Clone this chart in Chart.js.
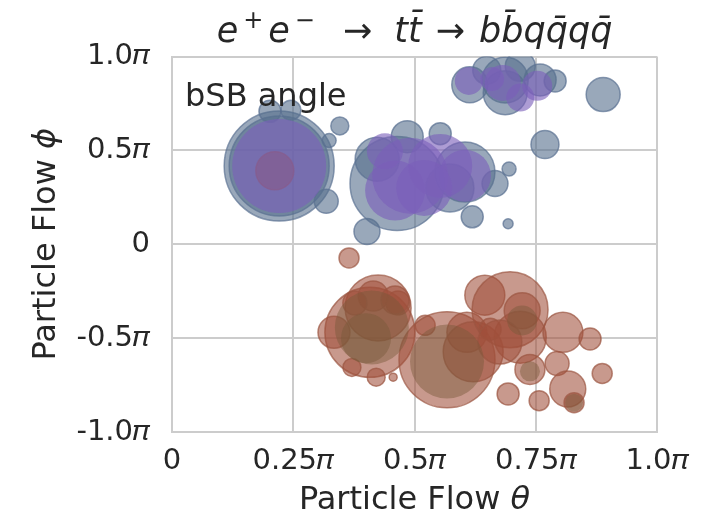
<!DOCTYPE html>
<html>
<head>
<meta charset="utf-8">
<script src="https://cdn.jsdelivr.net/npm/chart.js@4/dist/chart.umd.min.js"></script>
<style>
  html, body { margin: 0; padding: 0; background: #ffffff; }
  #wrap { width: 717px; height: 518px; }
</style>
</head>
<body>
<div id="wrap"><canvas id="c" width="717" height="518"></canvas></div>
<script>
// Particle flow positions, in units of pi (theta, phi), with bubble radius in px.
const blueTheta = [0.221, 0.221, 0.202, 0.245, 0.346, 0.324, 0.318, 0.402, 0.464, 0.423, 0.485, 0.553, 0.604, 0.619, 0.666, 0.695, 0.693, 0.614, 0.687, 0.687, 0.759, 0.790, 0.889, 0.769, 0.649, 0.718, 0.573];
const bluePhi   = [0.417, 0.417, 0.708, 0.714, 0.630, 0.552, 0.229, 0.068, 0.323, 0.453, 0.573, 0.589, 0.385, 0.146, 0.323, 0.401, 0.109, 0.849, 0.875, 0.807, 0.875, 0.870, 0.797, 0.531, 0.927, 0.948, 0.300];
const blueSize  = [55, 50, 11, 10, 9, 7, 12, 13, 47, 22, 16, 11, 30, 11, 13, 7, 5, 18, 23, 22, 16, 11, 17, 14, 14, 15, 24];

const purpleTheta = [0.221, 0.491, 0.553, 0.460, 0.604, 0.439, 0.520, 0.612, 0.682, 0.753, 0.718, 0.660];
const purplePhi   = [0.417, 0.365, 0.417, 0.286, 0.365, 0.495, 0.300, 0.870, 0.859, 0.844, 0.781, 0.880];
const purpleSize  = [47, 38, 32, 30, 26, 18, 28, 14, 18, 15, 14, 12];

const brownTheta = [0.212, 0.365, 0.408, 0.425, 0.334, 0.371, 0.421, 0.456, 0.522, 0.466, 0.567, 0.608, 0.621, 0.645, 0.697, 0.722, 0.718, 0.738, 0.806, 0.862, 0.794, 0.887, 0.693, 0.757, 0.816, 0.829, 0.656, 0.676, 0.415, 0.460, 0.377];
const brownPhi   = [0.391, -0.073, -0.469, -0.339, -0.469, -0.656, -0.708, -0.708, -0.432, -0.313, -0.615, -0.469, -0.573, -0.271, -0.349, -0.354, -0.495, -0.667, -0.469, -0.505, -0.635, -0.688, -0.797, -0.833, -0.771, -0.844, -0.453, -0.521, -0.276, -0.297, -0.313];
const brownSize  = [19, 10, 45, 33, 16, 9, 9, 4, 10, 12, 48, 20, 30, 20, 38, 18, 26, 15, 20, 11, 12, 10, 11, 10, 18, 10, 11, 22, 15, 14, 12];

const darkTheta = [0.412, 0.567, 0.722, 0.738, 0.829, 0.400];
const darkPhi   = [-0.443, -0.625, -0.406, -0.677, -0.844, -0.500];
const darkSize  = [37, 37, 15, 10, 9, 25];

const PI = '\u{1D70B}';
const xTickValues = [0, 0.25, 0.5, 0.75, 1.0];
const xTickLabels = ['0', '0.25' + PI, '0.5' + PI, '0.75' + PI, '1.0' + PI];
const yTickValues = [-1.0, -0.5, 0, 0.5, 1.0];
const yTickLabels = ['-1.0' + PI, '-0.5' + PI, '0', '0.5' + PI, '1.0' + PI];

const FONT = "'DejaVu Sans', sans-serif";
const INK = '#262626';
const GRID = '#cccccc';

function points(xs, ys, rs) {
  return xs.map((x, i) => ({ x: x, y: ys[i], r: rs[i] }));
}

// Title, in-plot caption and the two axis titles (with italic symbols).
const textPlugin = {
  id: 'textPlugin',
  afterDraw(chart) {
    const ctx = chart.ctx;
    const area = chart.chartArea;
    const cx = (area.left + area.right) / 2;
    ctx.save();
    ctx.fillStyle = INK;
    ctx.textBaseline = 'alphabetic';

    // Process title: e+ e- -> t tbar -> b bbar q qbar q qbar
    const it = 'italic 35px ' + FONT;
    const rm = '35px ' + FONT;
    const sup = '24px ' + FONT;
    const segs = [
      { t: 'e', f: it, dy: 0, gap: 5 },
      { t: '+', f: sup, dy: -14, gap: 5 },
      { t: 'e', f: it, dy: 0, gap: 5 },
      { t: '\u2212', f: sup, dy: -14, gap: 28 },
      { t: '\u2192', f: rm, dy: 0, gap: 22 },
      { t: 'tt\u0304', f: it, dy: 0, gap: 14 },
      { t: '\u2192', f: rm, dy: 0, gap: 14 },
      { t: 'bb\u0304qq\u0304qq\u0304', f: it, dy: 0, gap: 0 }
    ];
    let total = 0;
    segs.forEach(s => { ctx.font = s.f; s.w = ctx.measureText(s.t).width; total += s.w + s.gap; });
    let x = cx - total / 2;
    ctx.textAlign = 'left';
    segs.forEach(s => { ctx.font = s.f; ctx.fillText(s.t, x, 42 + s.dy); x += s.w + s.gap; });

    // Caption inside the plot
    ctx.font = '32px ' + FONT;
    ctx.fillText('bSB angle', 185, 106);

    // x-axis title
    const lab = 'Particle Flow ';
    ctx.font = '32px ' + FONT;
    const w1 = ctx.measureText(lab).width;
    ctx.font = 'italic 32px ' + FONT;
    const w2 = ctx.measureText('\u03B8').width;
    let sx = cx - (w1 + w2) / 2;
    ctx.font = '32px ' + FONT;
    ctx.fillText(lab, sx, 509);
    ctx.font = 'italic 32px ' + FONT;
    ctx.fillText('\u03B8', sx + w1, 509);

    // y-axis title
    const cy = (area.top + area.bottom) / 2;
    ctx.translate(55, cy);
    ctx.rotate(-Math.PI / 2);
    ctx.font = '32px ' + FONT;
    const v1 = ctx.measureText(lab).width;
    ctx.font = 'italic 32px ' + FONT;
    const v2 = ctx.measureText('\u03D5').width;
    const vx = -(v1 + v2) / 2;
    ctx.font = '32px ' + FONT;
    ctx.fillText(lab, vx, 0);
    ctx.font = 'italic 32px ' + FONT;
    ctx.fillText('\u03D5', vx + v1, 0);
    ctx.restore();
  }
};

new Chart(document.getElementById('c'), {
  type: 'bubble',
  data: {
    datasets: [
      {
        label: 'b',
        data: points(blueTheta, bluePhi, blueSize),
        backgroundColor: 'rgba(85,110,140,0.6)',
        borderColor: 'rgba(90,112,145,0.7)',
        borderWidth: 1.5,
        order: 4,
        clip: 0
      },
      {
        label: 'b reco',
        data: points(purpleTheta, purplePhi, purpleSize),
        backgroundColor: 'rgba(122,95,185,0.62)',
        borderColor: 'rgba(122,95,185,0)',
        borderWidth: 0,
        order: 1,
        clip: 0
      },
      {
        label: 'q',
        data: points(brownTheta, brownPhi, brownSize),
        backgroundColor: 'rgba(160,80,58,0.58)',
        borderColor: 'rgba(155,85,65,0.7)',
        borderWidth: 1.5,
        order: 3,
        clip: 0
      },
      {
        label: 'q reco',
        data: points(darkTheta, darkPhi, darkSize),
        backgroundColor: 'rgba(120,88,58,0.45)',
        borderColor: 'rgba(120,88,58,0)',
        borderWidth: 0,
        order: 2,
        clip: 0
      }
    ]
  },
  options: {
    responsive: false,
    animation: false,
    events: [],
    layout: { padding: { left: 0, top: 48, right: 60, bottom: 0 } },
    plugins: {
      legend: { display: false },
      tooltip: { enabled: false },
      title: { display: false }
    },
    scales: {
      x: {
        type: 'linear',
        min: 0,
        max: 1,
        afterBuildTicks(scale) { scale.ticks = xTickValues.map(v => ({ value: v })); },
        afterFit(scale) { scale.height = 86; },
        ticks: {
          callback(value) { const i = xTickValues.indexOf(value); return i >= 0 ? xTickLabels[i] : ''; },
          font: { family: FONT, size: 29 },
          color: INK,
          padding: 12,
          maxRotation: 0,
          autoSkip: false
        },
        grid: { color: GRID, lineWidth: 2, drawTicks: false },
        border: { color: GRID, width: 2 }
      },
      y: {
        type: 'linear',
        min: -1,
        max: 1,
        afterBuildTicks(scale) { scale.ticks = yTickValues.map(v => ({ value: v })); },
        afterFit(scale) { scale.width = 172; },
        ticks: {
          callback(value) { const i = yTickValues.indexOf(value); return i >= 0 ? yTickLabels[i] : ''; },
          font: { family: FONT, size: 29 },
          color: INK,
          padding: 22,
          autoSkip: false
        },
        grid: { color: GRID, lineWidth: 2, drawTicks: false },
        border: { color: GRID, width: 2 }
      }
    }
  },
  plugins: [textPlugin]
});
</script>
</body>
</html>
